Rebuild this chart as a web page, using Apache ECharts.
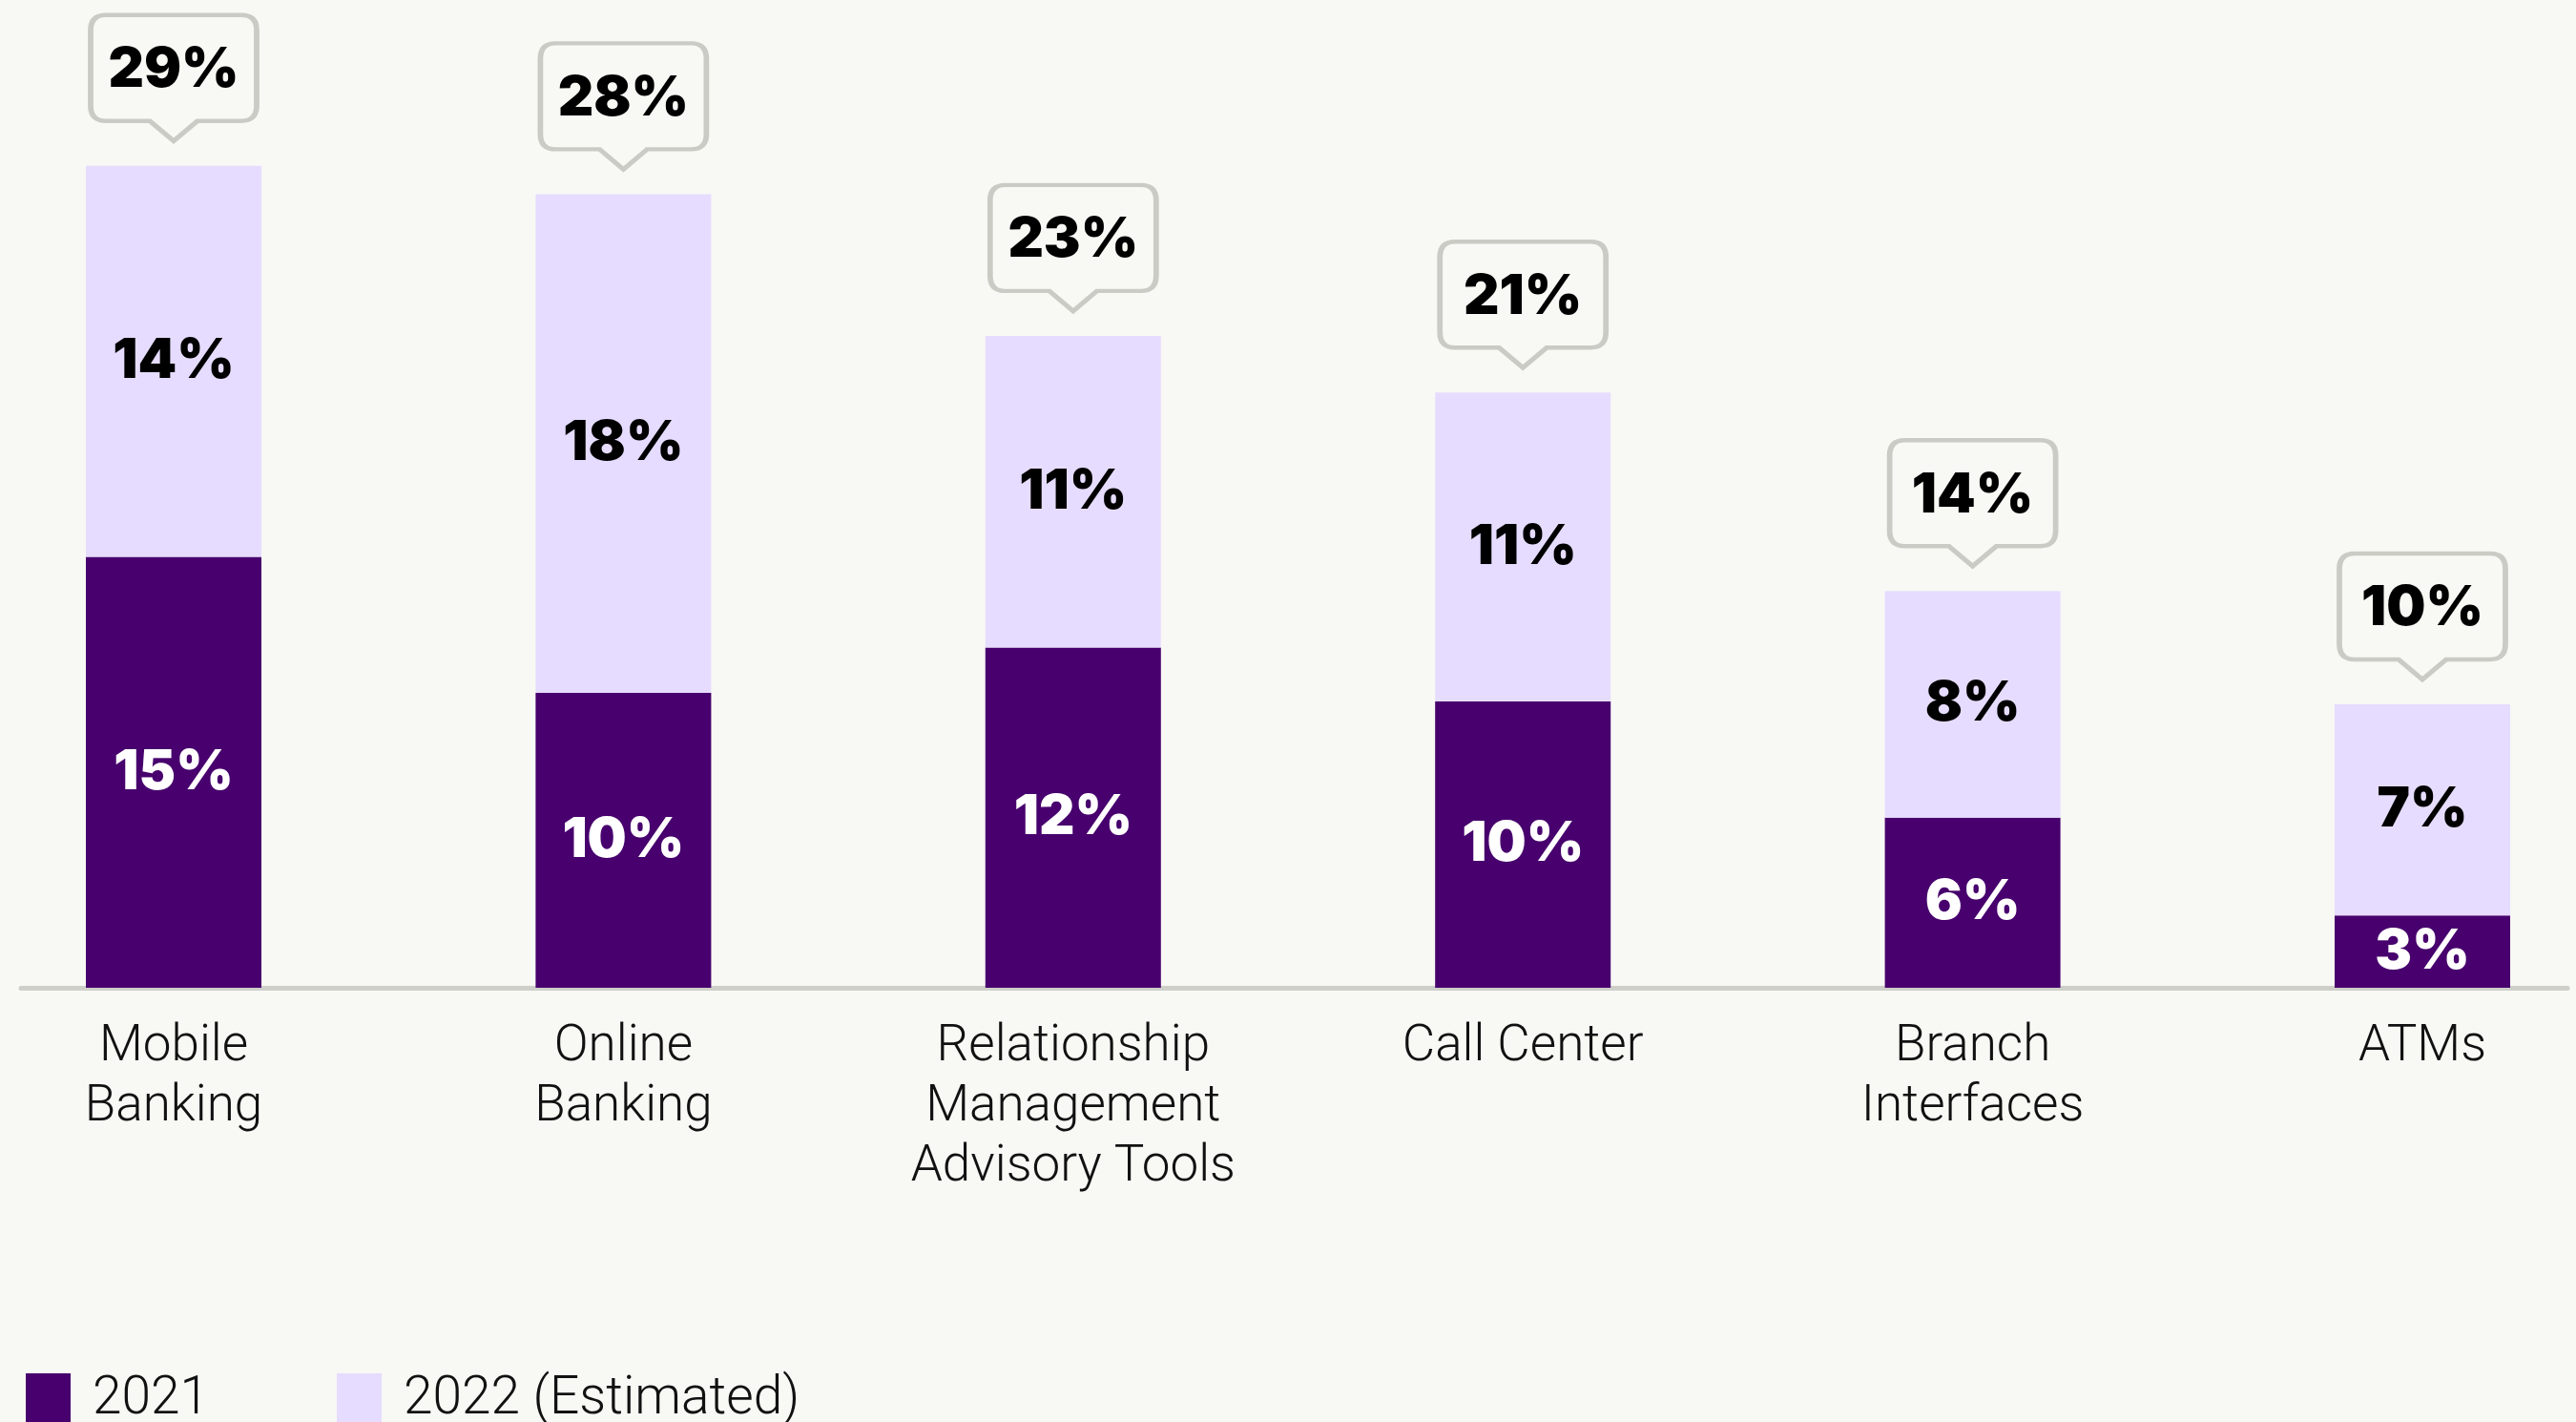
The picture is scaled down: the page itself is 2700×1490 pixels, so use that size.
<!DOCTYPE html>
<html>
<head>
<meta charset="utf-8">
<title>Channel investment</title>
<script src="https://cdn.jsdelivr.net/npm/echarts@6/dist/echarts.min.js"></script>
<style>
  html, body { margin: 0; padding: 0; background: #f8f8f4; }
  #chart { width: 2700px; height: 1490px; }
</style>
</head>
<body>
<div id="chart"></div>
<script>
// values (percent)
const categories = ['Mobile\nBanking', 'Online\nBanking', 'Relationship\nManagement\nAdvisory Tools', 'Call Center', 'Branch\nInterfaces', 'ATMs']
const values2021 = [15.2, 10.4, 12, 10.1, 6, 2.55]
const values2022 = [13.8, 17.6, 11, 10.9, 8, 7.45]
const totals = [29, 28, 23, 21, 14, 10]

const DARK = '#47006d'
const LIGHT = '#e6dcff'
const GREY = '#cbcbc5'

// speech bubble outline: box plus a small pointer at the bottom
const bubblePath = 'path://M16,0 H158 Q174,0 174,16 V95 Q174,111 158,111 H112 L87,132 L62,111 H16 Q0,111 0,95 V16 Q0,0 16,0 Z'

const chart = echarts.init(document.getElementById('chart'))

const numFont = {
  fontFamily: 'Inter, Roboto, sans-serif',
  fontWeight: 900,
  fontSize: 58
}

const option = {
  backgroundColor: '#f8f8f4',
  animation: false,
  legend: {
    data: ['2021', '2022 (Estimated)'],
    left: 22,
    top: 1434,
    icon: 'rect',
    itemWidth: 47,
    itemHeight: 56,
    itemGap: 134,
    textStyle: {
      fontFamily: 'Roboto, sans-serif',
      fontWeight: 300,
      fontSize: 55,
      color: '#111',
      padding: [0, 0, 0, 18]
    }
  },
  grid: [
    { left: 182, right: 161, top: 144, bottom: 455 },
    // wider grid, only used for the long baseline
    { left: 22, right: 9, top: 144, bottom: 455 }
  ],
  xAxis: [
    {
      type: 'category',
      gridIndex: 0,
      data: categories,
      boundaryGap: false,
      axisLine: { show: false },
      axisTick: { show: false },
      axisLabel: {
        interval: 0,
        margin: 31,
        fontFamily: 'Roboto, sans-serif',
        fontWeight: 300,
        fontSize: 53,
        lineHeight: 63,
        color: '#111',
        align: 'center'
      }
    },
    {
      type: 'value',
      gridIndex: 1,
      min: 0,
      max: 1,
      axisLine: { show: true, lineStyle: { color: '#cfcfca', width: 5 } },
      axisTick: { show: false },
      axisLabel: { show: false },
      splitLine: { show: false }
    }
  ],
  yAxis: [
    { type: 'value', gridIndex: 0, min: 0, max: 30, show: false, splitLine: { show: false } },
    { type: 'value', gridIndex: 1, min: 0, max: 1, show: false, splitLine: { show: false } }
  ],
  series: [
    {
      name: '2021',
      type: 'bar',
      stack: 'total',
      barWidth: 184,
      data: values2021,
      itemStyle: { color: DARK },
      label: {
        show: true,
        position: 'inside',
        color: '#fff',
        ...numFont,
        formatter: p => Math.round(p.value) + '%'
      }
    },
    {
      name: '2022 (Estimated)',
      type: 'bar',
      stack: 'total',
      barWidth: 184,
      data: values2022,
      itemStyle: { color: LIGHT },
      label: {
        show: true,
        position: 'inside',
        color: '#000',
        ...numFont,
        formatter: p => Math.round(p.value) + '%'
      }
    },
    {
      name: 'total',
      type: 'scatter',
      clip: false,
      data: totals,
      symbol: bubblePath,
      symbolSize: [174, 132],
      symbolOffset: [0, -92],
      itemStyle: { color: '#f8f8f4', borderColor: GREY, borderWidth: 5, opacity: 1 },
      label: {
        show: true,
        position: 'inside',
        offset: [0, -8],
        color: '#000',
        ...numFont,
        formatter: p => p.value + '%'
      },
      z: 5
    }
  ]
}

chart.setOption(option)
</script>
</body>
</html>
